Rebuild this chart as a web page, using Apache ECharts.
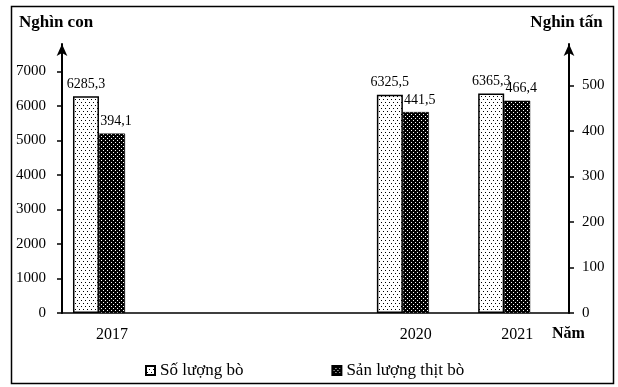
<!DOCTYPE html>
<html>
<head>
<meta charset="utf-8">
<script src="https://cdn.jsdelivr.net/npm/echarts@6/dist/echarts.min.js"></script>
<style>
html,body{margin:0;padding:0;background:#fff;}
#chart{width:618px;height:387px;}
</style>
</head>
<body>
<div id="chart"></div>
<script>
var years = [2017, 2020, 2021];
var cattle = [6285.3, 6325.5, 6365.3];   // Nghìn con
var beef = [394.1, 441.5, 466.4];         // Nghìn tấn
var leftTicks = [0, 1000, 2000, 3000, 4000, 5000, 6000, 7000];
var rightTicks = [0, 100, 200, 300, 400, 500];
var seriesNames = ['Số lượng bò', 'Sản lượng thịt bò'];

function makePattern(bg, fg, dots, w, h) {
  var c = document.createElement('canvas');
  c.width = w; c.height = h;
  var ctx = c.getContext('2d');
  ctx.fillStyle = bg; ctx.fillRect(0, 0, w, h);
  ctx.fillStyle = fg;
  dots.forEach(function (d) { ctx.fillRect(d[0], d[1], 1, 1); });
  return c;
}
var pat1 = makePattern('#ffffff', '#000000', [[1, 0], [3, 3]], 4, 6);
var pat2 = makePattern('#000000', '#ffffff', [[1, 0], [3, 2]], 4, 4);

function fmt(v) { return String(v).replace('.', ','); }
function plain(v) { return String(Math.round(v)); }

var font = '"Liberation Serif", "Times New Roman", serif';
var chart = echarts.init(document.getElementById('chart'), null, {renderer: 'canvas'});
chart.setOption({
  animation: false,
  backgroundColor: '#ffffff',
  grid: {left: 62, right: 49, top: 44, bottom: 74, containLabel: false},
  legend: {
    data: seriesNames,
    left: 140, top: 357,
    itemWidth: 9, itemHeight: 9, itemGap: 88,
    icon: 'rect',
    textStyle: {fontFamily: font, fontSize: 17, color: '#000'}
  },
  xAxis: {
    type: 'value', min: 2016.635, max: 2021.64,
    splitLine: {show: false},
    axisLine: {show: true, lineStyle: {color: '#000', width: 1.5}},
    axisTick: {show: false},
    axisLabel: {
      customValues: years, margin: 14, padding: [0, 0, 0, 26],
      fontFamily: font, fontSize: 16, color: '#000',
      formatter: plain
    }
  },
  yAxis: [{
    type: 'value', min: 0, max: 7797, position: 'left',
    name: 'Nghìn con', nameLocation: 'end', nameGap: 13,
    nameTextStyle: {fontFamily: font, fontSize: 17, fontWeight: 'bold', color: '#000', padding: [0, 12, 0, 0]},
    splitLine: {show: false},
    axisLine: {show: true, symbol: ['none', 'arrow'], symbolSize: [8, 12], lineStyle: {color: '#000', width: 2}},
    axisTick: {show: true, customValues: leftTicks, length: 5, lineStyle: {color: '#000', width: 1.5}},
    axisLabel: {customValues: leftTicks, margin: 16, fontFamily: font, fontSize: 15, color: '#000', formatter: plain}
  }, {
    type: 'value', min: 0, max: 591, position: 'right',
    name: 'Nghin tấn', nameLocation: 'end', nameGap: 13,
    nameTextStyle: {fontFamily: font, fontSize: 17, fontWeight: 'bold', color: '#000', padding: [0, 5, 0, 0]},
    splitLine: {show: false},
    axisLine: {show: true, symbol: ['none', 'arrow'], symbolSize: [8, 12], lineStyle: {color: '#000', width: 2}},
    axisTick: {show: true, customValues: rightTicks, length: 5, lineStyle: {color: '#000', width: 1.5}},
    axisLabel: {customValues: rightTicks, margin: 13, fontFamily: font, fontSize: 15, color: '#000', formatter: plain}
  }],
  series: [{
    name: seriesNames[0], type: 'bar', yAxisIndex: 0,
    barWidth: 26, barGap: '0%',
    data: years.map(function (y, i) { return [y, cattle[i]]; }),
    itemStyle: {color: {image: pat1, repeat: 'repeat'}, borderColor: '#000', borderWidth: 1.5},
    label: {show: true, position: 'top', distance: 5, fontFamily: font, fontSize: 14, color: '#000',
      formatter: function (p) { return fmt(p.value[1]); }}
  }, {
    name: seriesNames[1], type: 'bar', yAxisIndex: 1,
    barWidth: 26, barGap: '0%',
    data: years.map(function (y, i) { return [y, beef[i]]; }),
    itemStyle: {color: {image: pat2, repeat: 'repeat'}, borderColor: '#000', borderWidth: 0.5},
    label: {show: true, position: 'top', distance: 5, offset: [4, 0], fontFamily: font, fontSize: 14, color: '#000',
      formatter: function (p) { return fmt(p.value[1]); }}
  }],
  graphic: [{
    type: 'rect', left: 9, top: 4, silent: true,
    shape: {width: 602, height: 377},
    style: {fill: 'none', stroke: '#000', lineWidth: 1.5}
  }, {
    type: 'text', left: 552, top: 326,
    style: {text: 'Năm', fontFamily: font, fontSize: 16, fontWeight: 'bold', fill: '#000'}
  }]
});
</script>
</body>
</html>
